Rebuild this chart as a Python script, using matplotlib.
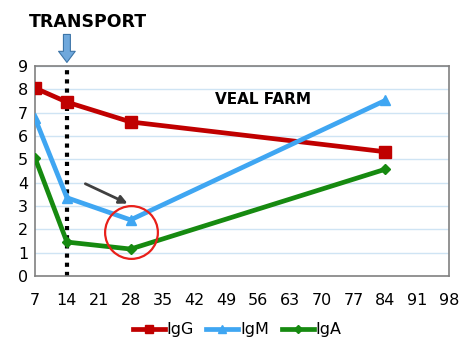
import matplotlib
matplotlib.use("Agg")
import matplotlib.pyplot as plt

days = [7, 14, 28, 84]
igg = [8.05, 7.45, 6.6, 5.32]
igm = [6.75, 3.35, 2.4, 7.52]
iga = [5.05, 1.45, 1.15, 4.57]
xticks = list(range(7, 99, 7))
yticks = list(range(0, 10))

fig = plt.figure(figsize=(4.74, 3.47), dpi=100)
ax = fig.add_axes([0.074, 0.205, 0.873, 0.605])

for v in yticks[1:]:
    ax.axhline(v, color='#cfe4f4', lw=1.0, zorder=0)

ax.plot(days, igg, color='#c00000', lw=3.4, marker='s', ms=8, label='IgG', zorder=3)
ax.plot(days, igm, color='#3fa6f2', lw=3.4, marker='^', ms=7.5, label='IgM', zorder=3)
ax.plot(days, iga, color='#168a10', lw=3.4, marker='D', ms=5.5, label='IgA', zorder=3)

ax.plot([14, 14], [0, 9], color='black', lw=3, ls=(0, (1, 1.2)), zorder=2)

ax.set_xlim(7, 98)
ax.set_ylim(0, 9)
ax.set_xticks(xticks)
ax.set_yticks(yticks)
ax.tick_params(length=0, labelsize=11.5, pad=12)
ax.tick_params(axis='y', pad=5)
for s in ax.spines.values():
    s.set_color('#808080')
    s.set_linewidth(1.2)

ax.text(46.6, 7.55, 'VEAL FARM', fontsize=11, fontweight='bold', va='center', ha='left')

ax.annotate('', xy=(27.9, 3.05), xytext=(17.5, 4.0),
            arrowprops=dict(arrowstyle='-|>', color='#404040', lw=2, mutation_scale=12))

ax.plot([28.0], [1.86], marker='o', ms=38, mfc='none', mec='#e8201a', mew=1.6, zorder=4)

ax.annotate('', xy=(14, 9.15), xytext=(14, 10.35), annotation_clip=False,
            arrowprops=dict(facecolor='#6fa8dc', edgecolor='#3d75a8', width=5, headwidth=12, headlength=8, lw=0.8))

fig.text(0.186, 0.937, 'TRANSPORT', fontsize=12.5, fontweight='bold', ha='center', va='center')

fig.legend(loc='center', bbox_to_anchor=(0.5, 0.05), ncol=3, frameon=False, fontsize=11.5,
           handlelength=2.0, handletextpad=0.1, columnspacing=0.8, markerscale=0.8)

fig.savefig('out.png', dpi=100)
